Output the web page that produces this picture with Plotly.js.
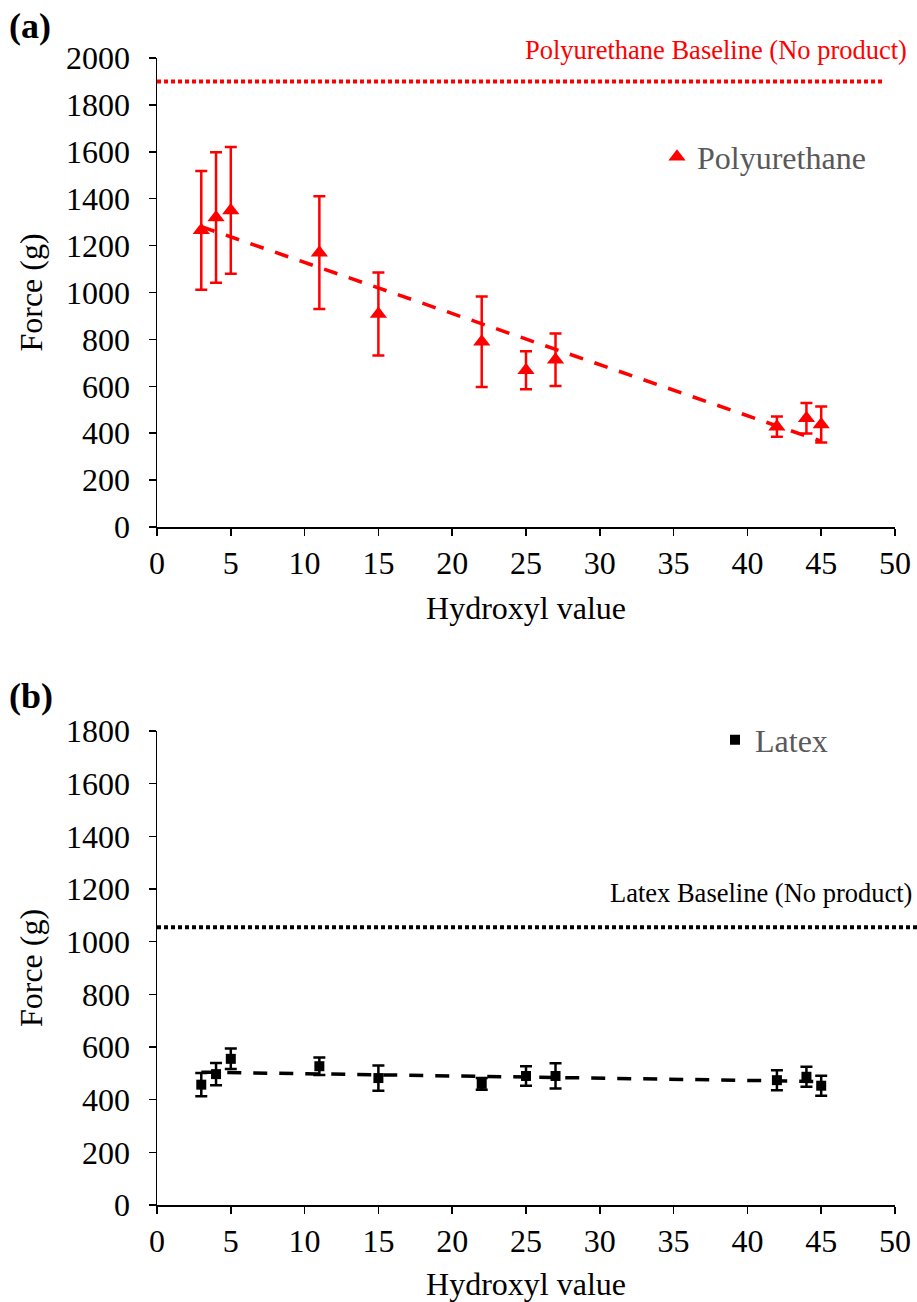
<!DOCTYPE html>
<html>
<head>
<meta charset="utf-8">
<script src="https://cdn.plot.ly/plotly-3.0.1.min.js"></script>
<style>
  html, body { margin: 0; padding: 0; background: #ffffff; }
  #chart { width: 917px; height: 1302px; }
</style>
</head>
<body>
<div id="chart"></div>
<script>
// Hydroxyl value of each product tested
const hydroxyl = [3, 4, 5, 11, 15, 22, 25, 27, 42, 44, 45];

// (a) Polyurethane: mean force (g) and error
const puForce = [1265, 1320, 1350, 1170, 908, 790, 668, 713, 428, 464, 437];
const puError = [253, 278, 270, 240, 177, 193, 81, 112, 43, 65, 77];

// (b) Latex: mean force (g) and error
const latexForce = [457, 497, 555, 527, 482, 460, 490, 490, 474, 487, 453];
const latexError = [44, 42, 39, 33, 48, 22, 37, 48, 38, 38, 38];

// Force with no product applied
const puBaseline = 1900;
const latexBaseline = 1055;

const xTicks = [0, 5, 10, 15, 20, 25, 30, 35, 40, 45, 50];

// Least-squares straight line through the points, drawn over the data's x span
function linearFit(xs, ys) {
  const n = xs.length;
  const mx = xs.reduce((a, b) => a + b, 0) / n;
  const my = ys.reduce((a, b) => a + b, 0) / n;
  let sxy = 0, sxx = 0;
  for (let i = 0; i < n; i++) {
    sxy += (xs[i] - mx) * (ys[i] - my);
    sxx += (xs[i] - mx) * (xs[i] - mx);
  }
  const slope = sxy / sxx;
  const icpt = my - slope * mx;
  const x0 = Math.min(...xs), x1 = Math.max(...xs);
  return { x: [x0, x1], y: [icpt + slope * x0, icpt + slope * x1] };
}

const W = 917, H = 1302;
const FONT = 'Liberation Serif, Times New Roman, serif';
const px = v => v / W;
const py = v => 1 - v / H;

const puFit = linearFit(hydroxyl, puForce);
const latexFit = linearFit(hydroxyl, latexForce);

const traces = [
  {
    x: hydroxyl, y: puForce, xaxis: 'x', yaxis: 'y',
    type: 'scatter', mode: 'markers', name: 'Polyurethane', legend: 'legend',
    marker: { symbol: 'triangle-up', size: 15, color: '#ff0000' },
    error_y: { type: 'data', array: puError, visible: true, color: '#ff0000', thickness: 2.5, width: 6 }
  },
  {
    x: puFit.x, y: puFit.y, xaxis: 'x', yaxis: 'y',
    type: 'scatter', mode: 'lines', showlegend: false, hoverinfo: 'skip',
    line: { color: '#ff0000', width: 3.5, dash: '14px,12px' }
  },
  {
    x: hydroxyl, y: latexForce, xaxis: 'x2', yaxis: 'y2',
    type: 'scatter', mode: 'markers', name: 'Latex', legend: 'legend2',
    marker: { symbol: 'square', size: 10, color: '#000000' },
    error_y: { type: 'data', array: latexError, visible: true, color: '#000000', thickness: 2.5, width: 6 }
  },
  {
    x: latexFit.x, y: latexFit.y, xaxis: 'x2', yaxis: 'y2',
    type: 'scatter', mode: 'lines', showlegend: false, hoverinfo: 'skip',
    line: { color: '#000000', width: 3.5, dash: '14px,12px' }
  }
];

const tickFont = { family: FONT, size: 32, color: '#000000' };

function xAxis(domainY) {
  return {
    domain: [px(157), px(895)],
    anchor: domainY,
    range: [0, 50],
    tickvals: xTicks,
    ticks: 'outside', ticklen: 7, tickwidth: 1.5, tickcolor: '#000000',
    showline: true, linecolor: '#000000', linewidth: 1.5,
    showgrid: false, zeroline: false,
    tickfont: tickFont,
    automargin: false,
    title: { text: 'Hydroxyl value', font: tickFont, standoff: 16 }
  };
}

function yAxis(domain, anchor, maxVal) {
  return {
    domain: domain,
    anchor: anchor,
    range: [0, maxVal],
    dtick: 200,
    ticks: 'outside', ticklen: 7, tickwidth: 1.5, tickcolor: '#000000',
    showline: true, linecolor: '#000000', linewidth: 1.5,
    showgrid: false, zeroline: false,
    tickfont: tickFont,
    ticklabelstandoff: 12,
    automargin: false,
    title: { text: 'Force (g)', font: tickFont, standoff: 14 }
  };
}

const layout = {
  width: W, height: H,
  margin: { l: 0, r: 0, t: 0, b: 0 },
  paper_bgcolor: '#ffffff', plot_bgcolor: '#ffffff',
  font: { family: FONT, color: '#000000' },
  xaxis: xAxis('y'),
  yaxis: yAxis([py(527), py(58)], 'x', 2000),
  xaxis2: xAxis('y2'),
  yaxis2: yAxis([py(1205), py(731)], 'x2', 1800),
  legend: {
    x: px(657), y: py(157), xanchor: 'left', yanchor: 'middle',
    bgcolor: 'rgba(0,0,0,0)', borderwidth: 0,
    font: { family: FONT, size: 32, color: '#595959' }
  },
  legend2: {
    x: px(715), y: py(740), xanchor: 'left', yanchor: 'middle',
    bgcolor: 'rgba(0,0,0,0)', borderwidth: 0,
    font: { family: FONT, size: 32, color: '#595959' }
  },
  shapes: [
    {
      type: 'line', xref: 'x', yref: 'y',
      x0: 0, x1: 49.2, y0: puBaseline, y1: puBaseline,
      line: { color: '#ff0000', width: 4, dash: '4px,3px' }
    },
    {
      type: 'line', xref: 'paper', yref: 'y2',
      x0: px(157), x1: 1, y0: latexBaseline, y1: latexBaseline,
      line: { color: '#000000', width: 4, dash: '4px,3px' }
    }
  ],
  annotations: [
    {
      text: '<b>(a)</b>', xref: 'paper', yref: 'paper', x: px(7), y: py(4),
      xanchor: 'left', yanchor: 'top', showarrow: false,
      font: { family: FONT, size: 36, color: '#000000' }
    },
    {
      text: '<b>(b)</b>', xref: 'paper', yref: 'paper', x: px(7), y: py(674),
      xanchor: 'left', yanchor: 'top', showarrow: false,
      font: { family: FONT, size: 36, color: '#000000' }
    },
    {
      text: 'Polyurethane Baseline (No product)', xref: 'paper', yref: 'paper',
      x: px(909), y: py(50), xanchor: 'right', yanchor: 'middle', showarrow: false,
      font: { family: FONT, size: 26.5, color: '#ff0000' }
    },
    {
      text: 'Latex Baseline (No product)', xref: 'paper', yref: 'paper',
      x: px(914), y: py(893), xanchor: 'right', yanchor: 'middle', showarrow: false,
      font: { family: FONT, size: 26.5, color: '#000000' }
    }
  ]
};

Plotly.newPlot('chart', traces, layout, { displayModeBar: false, staticPlot: true });
</script>
</body>
</html>
